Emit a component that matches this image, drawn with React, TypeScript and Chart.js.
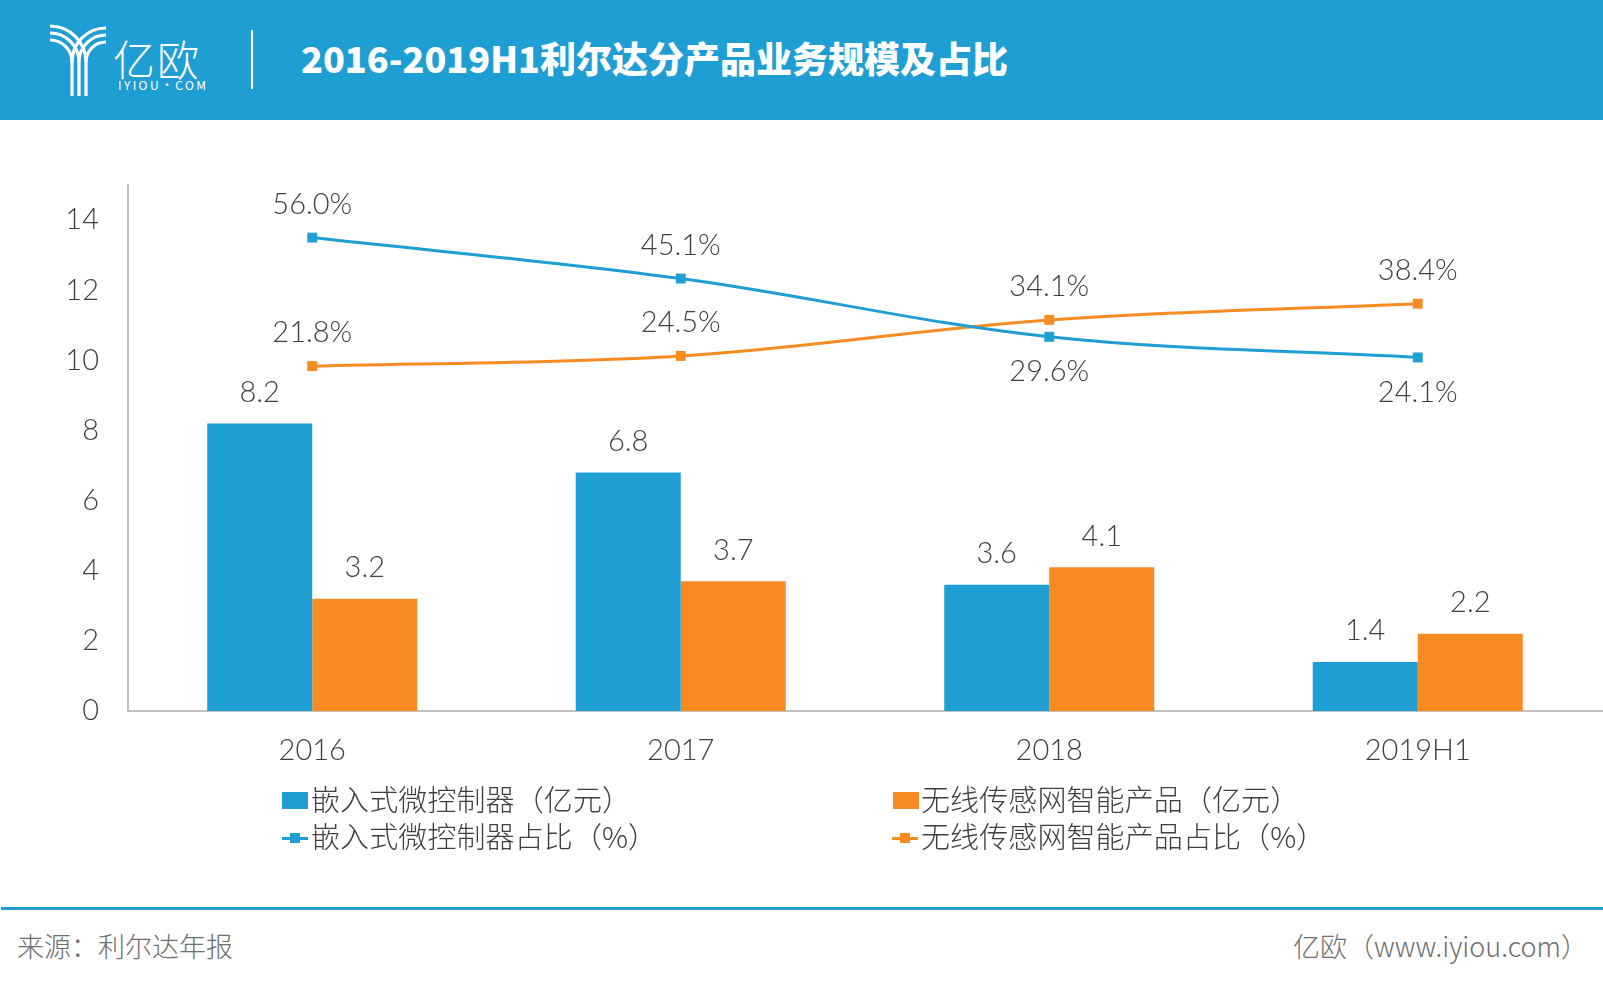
import React, { useEffect, useRef } from "react";
import { Chart, registerables } from "chart.js";

Chart.register(...registerables);

const categories = ["2016", "2017", "2018", "2019H1"];
const mcuRevenue = [8.2, 6.8, 3.6, 1.4];
const wsnRevenue = [3.2, 3.7, 4.1, 2.2];
const mcuShare = [56.0, 45.1, 29.6, 24.1];
const wsnShare = [21.8, 24.5, 34.1, 38.4];

const seriesNames = [
  "嵌入式微控制器（亿元）",
  "无线传感网智能产品（亿元）",
  "嵌入式微控制器占比（%）",
  "无线传感网智能产品占比（%）",
];

const BLUE = "#1f9ed3";
const ORANGE = "#f68b22";
const TEXT = "#404040";
const FONT = "'Noto Sans CJK SC', 'Noto Sans', sans-serif";
const NUMFONT = "Lato, 'Noto Sans CJK SC', sans-serif";

const labelPlugin = {
  id: "valueLabels",
  afterDatasetsDraw(chart: any) {
    const ctx = chart.ctx;
    ctx.save();
    ctx.font = `300 29px ${NUMFONT}`;
    ctx.fillStyle = TEXT;
    ctx.textAlign = "center";
    ctx.textBaseline = "middle";
    chart.data.datasets.forEach((ds: any, di: number) => {
      const meta = chart.getDatasetMeta(di);
      meta.data.forEach((el: any, i: number) => {
        const v = ds.data[i];
        if (ds.type === "line") {
          let dy = -33;
          if (di === 2) {
            if (ds.data[i] < chart.data.datasets[3].data[i]) dy = 35;
          }
          ctx.fillText(v.toFixed(1) + "%", el.x, el.y + dy);
        } else {
          ctx.fillText(v.toFixed(1), el.x, el.y - 31);
        }
      });
    });
    ctx.restore();
  },
};

function ChartCanvas() {
  const ref = useRef<HTMLCanvasElement>(null);
  useEffect(() => {
    if (!ref.current) return;
    const chart = new Chart(ref.current, {
      type: "bar",
      data: {
        labels: categories,
        datasets: [
          {
            type: "bar",
            label: seriesNames[0],
            data: mcuRevenue,
            backgroundColor: BLUE,
            yAxisID: "y",
            order: 2,
          },
          {
            type: "bar",
            label: seriesNames[1],
            data: wsnRevenue,
            backgroundColor: ORANGE,
            yAxisID: "y",
            order: 2,
          },
          {
            type: "line",
            label: seriesNames[2],
            data: mcuShare,
            borderColor: BLUE,
            backgroundColor: BLUE,
            borderWidth: 3,
            tension: 0.35,
            pointStyle: "rect",
            pointRadius: 7,
            pointBorderWidth: 0,
            yAxisID: "y1",
            order: 0,
          },
          {
            type: "line",
            label: seriesNames[3],
            data: wsnShare,
            borderColor: ORANGE,
            backgroundColor: ORANGE,
            borderWidth: 3,
            tension: 0.35,
            pointStyle: "rect",
            pointRadius: 7,
            pointBorderWidth: 0,
            yAxisID: "y1",
            order: 0,
          },
        ] as any,
      },
      options: {
        animation: false,
        responsive: false,
        maintainAspectRatio: false,
        layout: { padding: { top: 65, right: 0, left: 0, bottom: 0 } },
        datasets: {
          bar: { categoryPercentage: 0.57, barPercentage: 1 },
        } as any,
        plugins: {
          legend: { display: false },
          tooltip: { enabled: false },
        },
        scales: {
          x: {
            grid: { display: false, drawTicks: false },
            border: { display: true, color: "#c0c0c0", width: 2 },
            ticks: {
              padding: 22,
              color: TEXT,
              font: { family: NUMFONT, size: 29, weight: "300" as any },
            },
            afterFit: (s: any) => {
              s.height = 69;
            },
          },
          y: {
            min: 0,
            max: 15,
            grid: { display: false, drawTicks: false },
            border: { display: true, color: "#c0c0c0", width: 2 },
            ticks: {
              stepSize: 2,
              includeBounds: false,
              padding: 29,
              color: TEXT,
              font: { family: NUMFONT, size: 29, weight: "300" as any },
            },
            afterFit: (s: any) => {
              s.width = 128;
            },
          },
          y1: {
            display: false,
            min: -70,
            max: 70,
          },
        },
      },
      plugins: [labelPlugin],
    });
    return () => chart.destroy();
  }, []);
  return (
    <canvas
      ref={ref}
      width={1609}
      height={660}
      style={{ position: "absolute", left: 0, top: 120, width: 1609, height: 660 }}
    />
  );
}

function Logo() {
  const left = [0, 1, 2].map((i) => {
    const r = 36 - 7 * i;
    return `M50 ${62 - r} A ${r} ${r} 0 0 1 ${50 + r} 62 L ${50 + r} 96`;
  });
  const right = [0, 1, 2].map((i) => {
    const r = 20 + 7 * i;
    return `M106 ${62 - r} A ${r} ${r} 0 0 0 ${106 - r} 62`;
  });
  return (
    <svg
      width={120}
      height={120}
      style={{ position: "absolute", left: 0, top: 0 }}
      viewBox="0 0 120 120"
    >
      {left.concat(right).map((d, i) => (
        <path key={i} d={d} stroke="#fff" strokeWidth={3.2} fill="none" />
      ))}
    </svg>
  );
}

export default function App() {
  useEffect(() => {
    document.body.style.margin = "0";
    document.body.style.overflow = "hidden";
  }, []);
  const legendText: React.CSSProperties = {
    position: "absolute",
    fontFamily: FONT,
    fontWeight: 300,
    fontSize: 29,
    letterSpacing: 0.1,
    lineHeight: "34px",
    color: TEXT,
    whiteSpace: "nowrap",
  };
  const footText: React.CSSProperties = {
    position: "absolute",
    fontFamily: FONT,
    fontWeight: 300,
    fontSize: 27,
    lineHeight: "32px",
    color: "#6e6e6e",
    whiteSpace: "nowrap",
    top: 930,
  };
  return (
    <div
      style={{
        position: "absolute",
        left: 0,
        top: 0,
        width: 1603,
        height: 986,
        background: "#fff",
        overflow: "hidden",
      }}
    >
      <div
        style={{
          position: "absolute",
          left: 0,
          top: 0,
          width: 1603,
          height: 120,
          background: BLUE,
        }}
      >
        <Logo />
        <div
          style={{
            position: "absolute",
            left: 113,
            top: 33,
            fontFamily: FONT,
            fontWeight: 300,
            fontSize: 42,
            lineHeight: "50px",
            color: "#fff",
            letterSpacing: 2,
          }}
        >
          亿欧
        </div>
        <div
          style={{
            position: "absolute",
            left: 118,
            top: 78,
            fontFamily: FONT,
            fontSize: 12,
            lineHeight: "14px",
            color: "#fff",
            letterSpacing: 2.4,
          }}
        >
          IYIOU·COM
        </div>
        <div
          style={{
            position: "absolute",
            left: 251,
            top: 30,
            width: 2,
            height: 59,
            background: "#fff",
          }}
        />
        <div
          style={{
            position: "absolute",
            left: 301,
            top: 35,
            fontFamily: FONT,
            fontWeight: 900,
            fontSize: 36,
            lineHeight: "44px",
            color: "#fff",
            whiteSpace: "nowrap",
          }}
        >
          2016-2019H1利尔达分产品业务规模及占比
        </div>
      </div>

      <ChartCanvas />

      {/* legend */}
      <div style={{ position: "absolute", left: 282, top: 792, width: 26, height: 17, background: BLUE }} />
      <div style={{ ...legendText, left: 311, top: 781 }}>{seriesNames[0]}</div>
      <div style={{ position: "absolute", left: 893, top: 792, width: 26, height: 17, background: ORANGE }} />
      <div style={{ ...legendText, left: 921, top: 781 }}>{seriesNames[1]}</div>

      <div style={{ position: "absolute", left: 282, top: 837, width: 26, height: 3, background: BLUE }} />
      <div style={{ position: "absolute", left: 290, top: 833, width: 10, height: 10, background: BLUE }} />
      <div style={{ ...legendText, left: 311, top: 818 }}>{seriesNames[2]}</div>
      <div style={{ position: "absolute", left: 892, top: 837, width: 26, height: 3, background: ORANGE }} />
      <div style={{ position: "absolute", left: 900, top: 833, width: 10, height: 10, background: ORANGE }} />
      <div style={{ ...legendText, left: 921, top: 818 }}>{seriesNames[3]}</div>

      {/* footer */}
      <div style={{ position: "absolute", left: 1, top: 907, width: 1602, height: 3, background: BLUE }} />
      <div style={{ ...footText, left: 17 }}>来源：利尔达年报</div>
      <div style={{ ...footText, right: 15 }}>亿欧（www.iyiou.com）</div>
    </div>
  );
}
